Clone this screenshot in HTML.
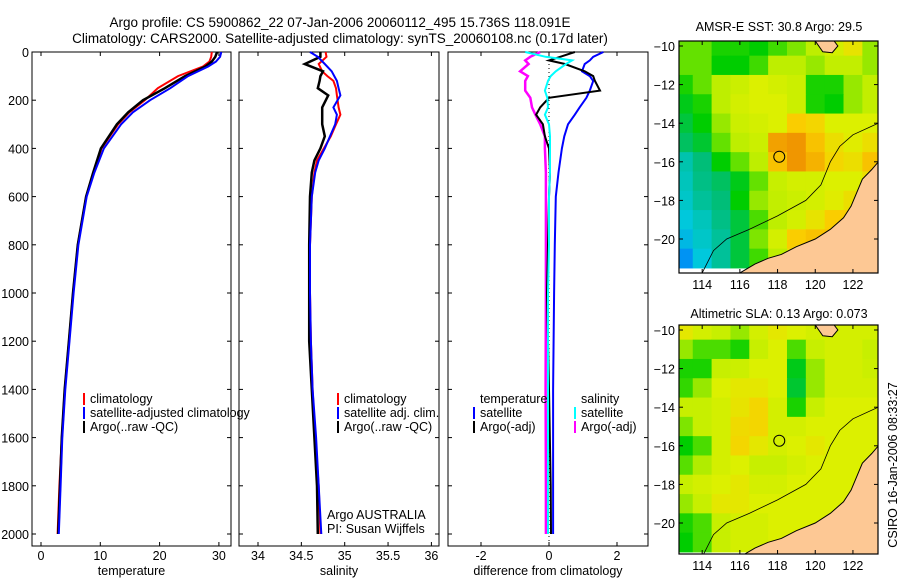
<!DOCTYPE html>
<html><head><meta charset="utf-8">
<style>
html,body{margin:0;padding:0;background:#fff;}
svg{display:block;font-family:"Liberation Sans",sans-serif;}
</style></head>
<body>
<svg id="fig" width="900" height="580" viewBox="0 0 900 580">
<text x="340" y="27" text-anchor="middle" font-size="13.5">Argo profile: CS 5900862_22 07-Jan-2006 20060112_495 15.736S 118.091E</text>
<text x="340" y="43" text-anchor="middle" font-size="13.5">Climatology: CARS2000. Satellite-adjusted climatology: synTS_20060108.nc (0.17d later)</text>
<text x="779" y="31" text-anchor="middle" font-size="12.5">AMSR-E SST: 30.8 Argo: 29.5</text>
<text x="779" y="318" text-anchor="middle" font-size="12.5">Altimetric SLA: 0.13 Argo: 0.073</text>
<text transform="translate(897,465) rotate(-90)" text-anchor="middle" font-size="12.5">CSIRO 16-Jan-2006 08:33:27</text>
</svg>
<script>
// ---- profile data ----
const depthT = [0,20,40,60,100,150,200,250,300,400,500,600,800,1000,1200,1400,1600,1800,2000];
const tempArgo = [29.7,29.4,28.8,27.7,24.3,20.9,17.2,14.7,12.8,10.1,8.8,7.6,6.2,5.4,4.7,4.0,3.5,3.2,2.9];
const tempClim = [28.8,28.7,28.4,27.3,23.1,19.7,17.5,14.9,13.0,10.2,8.9,7.6,6.2,5.4,4.7,4.0,3.5,3.1,2.8];
const tempSat  = [30.4,30.2,29.5,28.2,24.8,21.8,18.4,15.5,13.5,10.6,9.0,7.7,6.3,5.5,4.8,4.1,3.6,3.3,3.0];
const depthS = [0,20,50,80,100,120,150,180,230,260,300,350,400,450,500,600,800,1000,1200,1400,1600,1800,2000];
const salArgo = [34.72,34.72,34.54,34.75,34.72,34.71,34.69,34.81,34.74,34.74,34.74,34.77,34.72,34.65,34.62,34.60,34.59,34.59,34.59,34.62,34.65,34.68,34.69];
const salClim = [34.78,34.79,34.70,34.74,34.80,34.87,34.90,34.91,34.93,34.95,34.90,34.84,34.76,34.68,34.65,34.62,34.60,34.60,34.61,34.63,34.66,34.70,34.72];
const salSat  = [34.60,34.69,34.77,34.85,34.88,34.91,34.93,34.95,34.87,34.91,34.89,34.83,34.77,34.70,34.66,34.62,34.60,34.60,34.61,34.63,34.67,34.70,34.73];
const depthD = [0,20,35,50,80,100,120,160,190,230,260,300,350,400,500,600,800,1000,1400,1800,2000];
const dTempSat  = [1.6,1.3,1.2,1.05,0.97,1.2,1.3,1.2,1.1,0.9,0.76,0.56,0.45,0.38,0.28,0.2,0.17,0.15,0.12,0.12,0.12];
const dTempArgo = [0.76,0.33,0.0,0.47,1.05,1.3,1.35,1.5,0.0,-0.26,-0.38,-0.18,-0.12,0.0,0.03,0.0,-0.03,-0.06,0.0,0.05,0.06];
const dSalSat   = [-0.7,-0.1,0.68,0.5,0.2,0.05,-0.03,-0.12,-0.05,-0.03,-0.12,0.0,0.03,0.03,0.03,0.0,0.0,-0.03,-0.03,-0.03,-0.03];
const dSalArgo  = [-0.26,-0.55,-0.7,-0.6,-0.85,-0.62,-0.7,-0.7,-0.55,-0.5,-0.4,-0.26,-0.12,-0.12,-0.09,-0.09,-0.09,-0.09,-0.1,-0.09,-0.09];
const depthTicks = [0,200,400,600,800,1000,1200,1400,1600,1800,2000];
const tempTicks = [0,10,20,30];
const salTicks = [34,34.5,35,35.5,36];
const salTickLabels = ["34","34.5","35","35.5","36"];
const diffTicks = [-2,0,2];
// ---- map data (rows lat -10..-21, cols lon 113..123), 0=blue 1=red ----
const sstGrid = [
[0.48,0.48,0.42,0.42,0.40,0.45,0.50,0.55,0.60,0.65,0.52],
[0.48,0.48,0.40,0.40,0.45,0.55,0.55,0.52,0.56,0.56,0.52],
[0.42,0.48,0.55,0.58,0.62,0.60,0.58,0.42,0.42,0.52,0.56],
[0.38,0.42,0.55,0.60,0.62,0.62,0.58,0.42,0.40,0.52,0.56],
[0.35,0.40,0.52,0.58,0.60,0.62,0.70,0.68,0.62,0.62,0.62],
[0.32,0.36,0.48,0.55,0.58,0.78,0.80,0.72,0.66,0.63,0.66],
[0.22,0.30,0.40,0.48,0.55,0.72,0.80,0.75,0.68,0.66,0.72],
[0.20,0.28,0.32,0.38,0.48,0.57,0.60,0.60,0.62,0.62,0.66],
[0.18,0.25,0.30,0.40,0.52,0.56,0.58,0.60,0.63,0.66,0.66],
[0.15,0.20,0.28,0.35,0.46,0.55,0.60,0.65,0.70,0.70,0.70],
[0.12,0.18,0.25,0.35,0.50,0.60,0.70,0.72,0.72,0.70,0.70],
[0.05,0.15,0.25,0.35,0.45,0.55,0.65,0.70,0.70,0.70,0.70]];
const slaGrid = [
[0.64,0.60,0.57,0.52,0.60,0.64,0.62,0.60,0.60,0.60,0.60],
[0.52,0.46,0.46,0.42,0.57,0.62,0.46,0.57,0.60,0.60,0.57],
[0.42,0.42,0.57,0.58,0.62,0.62,0.38,0.52,0.60,0.60,0.58],
[0.44,0.52,0.62,0.64,0.64,0.62,0.36,0.52,0.60,0.60,0.60],
[0.57,0.57,0.60,0.65,0.68,0.60,0.42,0.57,0.62,0.62,0.62],
[0.50,0.57,0.60,0.67,0.68,0.60,0.60,0.62,0.62,0.62,0.62],
[0.40,0.46,0.60,0.68,0.64,0.60,0.62,0.64,0.62,0.62,0.62],
[0.47,0.54,0.60,0.62,0.57,0.57,0.60,0.62,0.62,0.62,0.62],
[0.57,0.60,0.62,0.64,0.60,0.60,0.62,0.62,0.62,0.62,0.62],
[0.52,0.57,0.64,0.64,0.62,0.62,0.62,0.62,0.62,0.62,0.62],
[0.42,0.46,0.57,0.60,0.60,0.62,0.62,0.62,0.62,0.62,0.62],
[0.40,0.46,0.57,0.60,0.60,0.62,0.62,0.62,0.62,0.62,0.62]];
const coastLon = [116.0,116.8,117.5,118.2,119.0,120.0,120.8,121.5,121.9,122.2,122.5,123.0,123.35,123.35];
const coastLat = [-21.76,-21.3,-21.0,-20.8,-20.4,-20.0,-19.5,-18.9,-18.3,-17.6,-16.9,-16.4,-16.0,-21.76];
const islandLon = [120.0,120.4,120.9,121.2,121.0];
const islandLat = [-9.74,-10.3,-10.35,-10.0,-9.74];
const shelfLon = [114.0,114.6,115.3,116.5,118.0,119.5,120.3,120.8,121.3,122.0,123.35];
const shelfLat = [-21.76,-20.6,-20.0,-19.5,-18.8,-18.0,-17.2,-16.0,-15.2,-14.6,-14.0];
const mapLonTicks = [114,116,118,120,122];
const mapLatTicks = [-10,-12,-14,-16,-18,-20];
const argoLon = 118.091, argoLat = -15.736;

const NS='http://www.w3.org/2000/svg';
const svg=document.getElementById('fig');
function mk(tag,attrs,parent){const e=document.createElementNS(NS,tag);for(const k in attrs)e.setAttribute(k,attrs[k]);(parent||svg).appendChild(e);return e;}
const yTop=52, yBot=546;
const yD=d=>yTop+d*0.241;

function panel(name,x0,x1,xf,ticks,labels,xlabel,showDepth){
  const g=mk('g',{});
  
  
  const r=mk('rect',{x:x0,y:yTop,width:x1-x0,height:yBot-yTop,fill:'none',stroke:'#000','stroke-width':1},g);
  
  
  ticks.forEach((t,i)=>{const x=xf(t);
    mk('line',{x1:x,x2:x,y1:yBot,y2:yBot-4,stroke:'#000'},g);
    mk('line',{x1:x,x2:x,y1:yTop,y2:yTop+4,stroke:'#000'},g);
    const tx=mk('text',{x:x,y:yBot+14,'text-anchor':'middle','font-size':12.5},g);tx.textContent=labels[i];
    
    
  });
  const xl=mk('text',{x:(x0+x1)/2,y:575,'text-anchor':'middle','font-size':12.5},g);xl.textContent=xlabel;
  
  
  depthTicks.forEach(d=>{const y=yD(d);
    mk('line',{x1:x0,x2:x0+4,y1:y,y2:y,stroke:'#000'},g);
    mk('line',{x1:x1,x2:x1-4,y1:y,y2:y,stroke:'#000'},g);
    if(showDepth){const t=mk('text',{x:x0-3,y:y+5,'text-anchor':'end','font-size':12.5},g);t.textContent=d;
      
      }
  });
  return g;
}
function line(g,depths,vals,xf,color,w,name){
  const pts=depths.map((d,i)=>xf(vals[i]).toFixed(1)+','+yD(d).toFixed(1)).join(' ');
  const p=mk('polyline',{points:pts,fill:'none',stroke:color,'stroke-width':w},g);
  
  
}
function legend(g,x,y,items){
  items.forEach((it,i)=>{
    const yy=y+i*14;
    if(it[0]) mk('rect',{x:x,y:yy-10,width:2,height:12,fill:it[0]},g);
    const t=mk('text',{x:x+7,y:yy,'font-size':12.5},g);t.textContent=it[1];
    
    
  });
}
// Temperature
const xT=t=>41+5.93*t;
const g1=panel('temperature-panel',32,231,xT,tempTicks,tempTicks.map(String),'temperature',true);
line(g1,depthT,tempClim,xT,'#f00',2,'temp-climatology-line');
line(g1,depthT,tempArgo,xT,'#000',2.5,'temp-argo-line');
line(g1,depthT,tempSat,xT,'#00f',2,'temp-satellite-line');
legend(g1,83,403,[['#f00','climatology'],['#00f','satellite-adjusted climatology'],['#000','Argo(..raw -QC)']]);
// Salinity
const xS=s=>258+86.7*(s-34);
const g2=panel('salinity-panel',239,439,xS,salTicks,salTickLabels,'salinity',false);
line(g2,depthS,salClim,xS,'#f00',2,'sal-climatology-line');
line(g2,depthS,salArgo,xS,'#000',2.5,'sal-argo-line');
line(g2,depthS,salSat,xS,'#00f',2,'sal-satellite-line');
legend(g2,337,403,[['#f00','climatology'],['#00f','satellite adj. clim.'],['#000','Argo(..raw -QC)']]);
legend(g2,320,519,[[null,'Argo AUSTRALIA'],[null,'PI: Susan Wijffels']]);
// Difference
const xDf=v=>549+34*v;
const g3=panel('difference-panel',448,648,xDf,diffTicks,diffTicks.map(String),'difference from climatology',false);
mk('line',{x1:xDf(0),x2:xDf(0),y1:yTop,y2:yBot,stroke:'#000','stroke-dasharray':'1,3'},g3);
line(g3,depthD,dSalArgo,xDf,'#f0f',2.5,'diff-sal-argo-line');
line(g3,depthD,dTempSat,xDf,'#00f',2,'diff-temp-satellite-line');
line(g3,depthD,dTempArgo,xDf,'#000',2,'diff-temp-argo-line');
line(g3,depthD,dSalSat,xDf,'#0ff',2,'diff-sal-satellite-line');
legend(g3,473,403,[[null,'temperature'],['#00f','satellite'],['#000','Argo(-adj)']]);
legend(g3,574,403,[[null,'salinity'],['#0ff','satellite'],['#f0f','Argo(-adj)']]);

// colormap
const cstops=[[0,[0,120,255]],[0.15,[0,200,220]],[0.3,[0,190,120]],[0.4,[0,205,0]],[0.48,[100,225,0]],[0.55,[190,238,0]],[0.62,[220,240,0]],[0.7,[250,205,0]],[0.8,[240,150,0]],[0.9,[200,60,0]],[1,[150,0,0]]];
function cmap(v){for(let i=1;i<cstops.length;i++){if(v<=cstops[i][0]){const a=cstops[i-1],b=cstops[i];const f=(v-a[0])/(b[0]-a[0]);return 'rgb('+a[1].map((c,k)=>Math.round(c+(b[1][k]-c)*f)).join(',')+')';}}return 'rgb(150,0,0)';}

function map(name,top,bot,lat10y,grid){
  const x0=679,x1=878;
  const lon0=112.77,lon1=123.33;
  const xf=l=>x0+(l-lon0)/(lon1-lon0)*(x1-x0);
  const yf=la=>lat10y+(-10-la)*19.3;
  const g=mk('g',{});
  
  
  const clipId=name+'-clip';
  const cp=mk('clipPath',{id:clipId},g);
  mk('rect',{x:x0,y:top,width:x1-x0,height:bot-top},cp);
  const inner=mk('g',{'clip-path':'url(#'+clipId+')'},g);
  grid.forEach((row,r)=>row.forEach((v,c)=>{
    const la=-9.5-r, lo=112.5+c;
    const cell=mk('rect',{x:xf(lo),y:yf(la),width:(xf(lo+1)-xf(lo))+0.5,height:19.8,fill:cmap(v)},inner);
    
    
  }));
  const land=mk('polygon',{points:coastLon.map((l,i)=>xf(l)+','+yf(coastLat[i])).join(' '),fill:'#fdc894',stroke:'#000','stroke-width':1},inner);
  
  
  const isl=mk('polygon',{points:islandLon.map((l,i)=>xf(l)+','+yf(islandLat[i])).join(' '),fill:'#fdc894',stroke:'#000','stroke-width':1},inner);
  
  
  const sh=mk('polyline',{points:shelfLon.map((l,i)=>xf(l)+','+yf(shelfLat[i])).join(' '),fill:'none',stroke:'#000','stroke-width':0.8},inner);
  
  
  const c=mk('circle',{cx:xf(argoLon),cy:yf(argoLat),r:5.5,fill:cmap(grid[6][5]),stroke:'#000','stroke-width':1},g);
  
  
  mk('rect',{x:x0,y:top,width:x1-x0,height:bot-top,fill:'none',stroke:'#000','stroke-width':1.2},g);
  mapLonTicks.forEach(l=>{const x=xf(l);
    mk('line',{x1:x,x2:x,y1:bot,y2:bot-4,stroke:'#000'},g);
    mk('line',{x1:x,x2:x,y1:top,y2:top+4,stroke:'#000'},g);
    const t=mk('text',{x:x,y:bot+16,'text-anchor':'middle','font-size':12.5},g);t.textContent=l;
    
    
  });
  mapLatTicks.forEach(la=>{const y=yf(la);
    mk('line',{x1:x0,x2:x0+4,y1:y,y2:y,stroke:'#000'},g);
    mk('line',{x1:x1,x2:x1-4,y1:y,y2:y,stroke:'#000'},g);
    const t=mk('text',{x:x0-4,y:y+5,'text-anchor':'end','font-size':12.5},g);t.textContent=String(la).replace('-','\u2212');
    
    
  });
}
map('sst-map',41,273,46,sstGrid);
map('sla-map',325,554,330,slaGrid);
</script>
</body></html>
